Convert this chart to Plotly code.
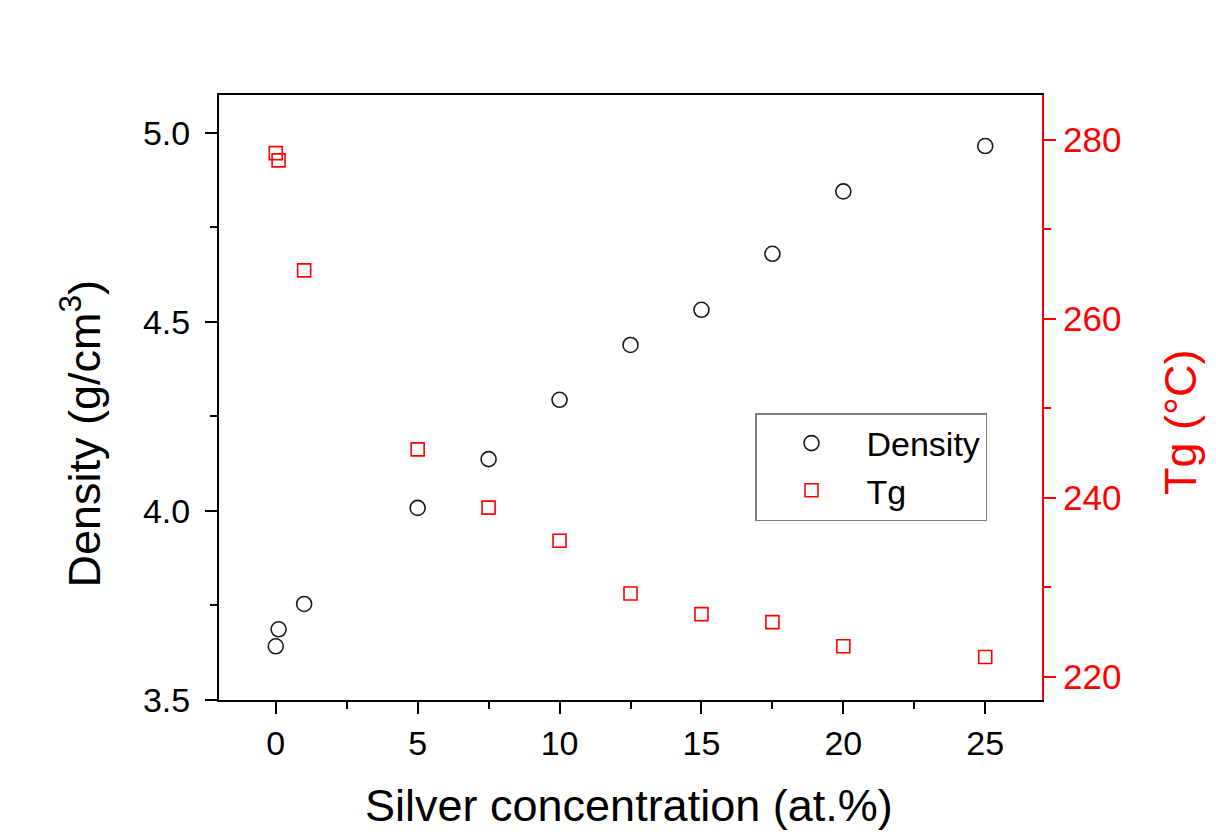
import plotly.graph_objects as go

# Silver concentration (at.%) of each glass composition
conc = [0, 0.1, 1, 5, 7.5, 10, 12.5, 15, 17.5, 20, 25]
# Measured density (g/cm^3)
density = [3.642, 3.687, 3.754, 4.008, 4.137, 4.294, 4.439, 4.532, 4.680, 4.845, 4.965]
# Glass transition temperature (°C)
tg = [278.5, 277.7, 265.4, 245.4, 238.9, 235.2, 229.3, 227.0, 226.1, 223.4, 222.2]

FONT = "Arial, Liberation Sans, Helvetica, sans-serif"
RED = "#ff0000"

fig = go.Figure()
fig.add_trace(go.Scatter(
    x=conc, y=density, name="Density", mode="markers",
    marker=dict(symbol="circle-open", size=15, color="#1a1a1a",
                line=dict(width=1.6, color="#1a1a1a")),
    yaxis="y",
))
fig.add_trace(go.Scatter(
    x=conc, y=tg, name="Tg", mode="markers",
    marker=dict(symbol="square-open", size=13, color=RED,
                line=dict(width=1.6, color=RED)),
    yaxis="y2",
))

fig.update_layout(
    template="none",
    width=1216, height=837,
    margin=dict(l=219, r=174, t=95, b=137, pad=0),
    paper_bgcolor="white", plot_bgcolor="white",
    font=dict(family=FONT, size=34, color="black"),
    showlegend=True,
    legend=dict(
        x=(755 - 219) / 823, y=(700 - 413) / 605,
        xanchor="left", yanchor="top",
        bgcolor="white", bordercolor="#7f7f7f", borderwidth=1.5,
        font=dict(family=FONT, size=34, color="black"),
        itemwidth=100, tracegroupgap=0, entrywidth=148,
    ),
    xaxis=dict(
        range=[-2, 27], tick0=0, dtick=5, automargin=False,
        showgrid=False, zeroline=False,
        showline=True, linecolor="black", linewidth=2, mirror=True,
        ticks="outside", ticklen=12, tickwidth=2, tickcolor="black",
        tickfont=dict(size=34, color="black"),
        minor=dict(dtick=2.5, tick0=0, ticks="outside", ticklen=7,
                   tickwidth=2, tickcolor="black", showgrid=False),
    ),
    yaxis=dict(
        range=[3.5, 5.1], tick0=3.5, dtick=0.5, tickformat=".1f",
        automargin=False, showgrid=False, zeroline=False,
        showline=True, linecolor="black", linewidth=2,
        ticks="outside", ticklen=12, tickwidth=2, tickcolor="black",
        tickfont=dict(size=34, color="black"), ticklabelstandoff=8,
        minor=dict(dtick=0.25, tick0=3.5, ticks="outside", ticklen=7,
                   tickwidth=2, tickcolor="black", showgrid=False),
    ),
    yaxis2=dict(
        range=[217.4, 285], tick0=220, dtick=20, overlaying="y", side="right",
        automargin=False, showgrid=False, zeroline=False,
        showline=True, linecolor=RED, linewidth=2,
        ticks="outside", ticklen=12, tickwidth=2, tickcolor=RED,
        tickfont=dict(size=35, color=RED), ticklabelstandoff=0,
        minor=dict(dtick=10, tick0=220, ticks="outside", ticklen=7,
                   tickwidth=2, tickcolor=RED, showgrid=False),
    ),
    annotations=[
        dict(text="Silver concentration (at.%)", xref="paper", yref="paper",
             x=0.498, y=-0.175, xanchor="center", yanchor="middle",
             showarrow=False, font=dict(size=45, color="black")),
        dict(text="Density (g/cm<sup>3</sup>)", xref="paper", yref="paper",
             x=-0.168, y=0.44, xanchor="center", yanchor="middle",
             textangle=-90, showarrow=False,
             font=dict(size=45, color="black")),
        dict(text="Tg (°C)", xref="paper", yref="paper",
             x=1.169, y=0.458, xanchor="center", yanchor="middle",
             textangle=-90, showarrow=False,
             font=dict(size=45, color=RED)),
    ],
)

fig.write_html("out.html")
